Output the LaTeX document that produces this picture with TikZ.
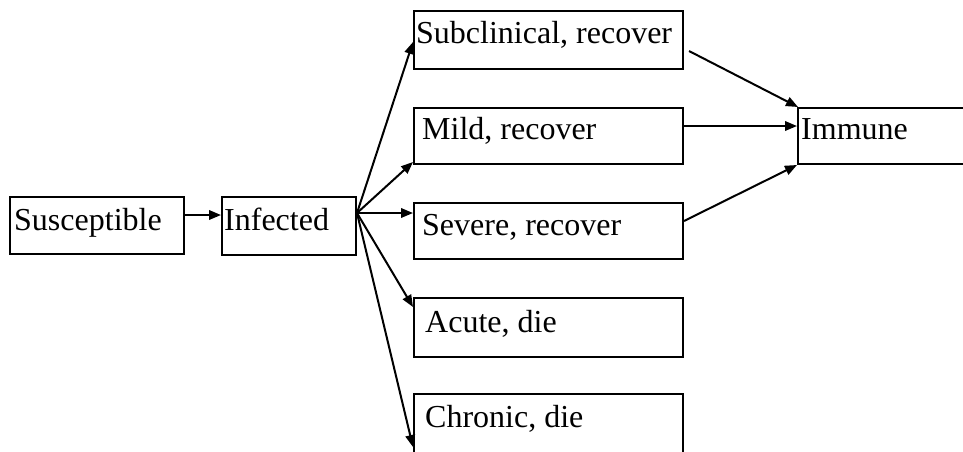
\documentclass[tikz,border=0pt]{standalone}
\usepackage{fontspec}
\setmainfont{Liberation Serif}
\usetikzlibrary{arrows.meta,calc}
\tikzset{
  box/.style={draw, line width=2pt, rectangle, inner sep=0pt, anchor=north west},
  lbl/.style={anchor=base west, inner sep=0pt, font=\fontsize{32}{38}\selectfont},
  arr/.style={line width=2pt, -{Triangle[length=12pt,width=9.5pt]}}
}
\begin{document}
\begin{tikzpicture}[x=1pt,y=-1pt]
\useasboundingbox (0,0) rectangle (963,451);
\clip (0,0) rectangle (963,451);
% boxes
\node[box, minimum width=174pt, minimum height=57pt] (sus) at (9,196) {};
\node[box, minimum width=134pt, minimum height=58pt] (inf) at (221,196) {};
\node[box, minimum width=269pt, minimum height=58pt] (sub) at (413,10) {};
\node[box, minimum width=269pt, minimum height=56pt] (mild) at (413,107) {};
\node[box, minimum width=269pt, minimum height=56pt] (sev) at (413,202) {};
\node[box, minimum width=269pt, minimum height=59pt] (acute) at (413,297) {};
\node[box, minimum width=269pt, minimum height=90pt] (chron) at (413,393) {};
\node[box, minimum width=200pt, minimum height=56pt] (imm) at (797,107) {};
% labels
\node[lbl] (tsus) at (14,230) {Susceptible};
\node[lbl] (tinf) at (224,230) {Infected};
\node[lbl] (tsub) at (416,43) {Subclinical, recover};
\node[lbl] (tmild) at (422,139) {Mild, recover};
\node[lbl] (tsev) at (422,235) {Severe, recover};
\node[lbl] (tacute) at (425,332) {Acute, die};
\node[lbl] (tchron) at (425,427) {Chronic, die};
\node[lbl] (timm) at (801,139) {Immune};
% connector points
\coordinate (s1) at ($(sus.north east)+(0,19)$);
\coordinate (i1) at ($(inf.north west)+(0,19)$);
\coordinate (o) at ($(inf.north east)+(0,17)$);
\coordinate (subin) at ($(sub.north west)+(0,32)$);
\coordinate (mildin) at ($(mild.south west)+(0,-3)$);
\coordinate (sevin) at ($(sev.north west)+(0,11)$);
\coordinate (acutein) at ($(acute.north west)+(0,10)$);
\coordinate (chronin) at ($(chron.north west)+(0,54)$);
\coordinate (subout) at ($(sub.north east)+(5,41)$);
\coordinate (mildout) at ($(mild.north east)+(0,19)$);
\coordinate (sevout) at ($(sev.north east)+(0,19)$);
\coordinate (immtop) at ($(imm.north west)+(1,0)$);
\coordinate (immmid) at ($(imm.north west)+(0,19)$);
\coordinate (immbot) at (imm.south west);
% arrows
\draw[arr] (s1) -- (i1);
\draw[arr] (o) -- (subin);
\draw[arr] (o) -- (mildin);
\draw[arr] (o) -- (sevin);
\draw[arr] (o) -- (acutein);
\draw[arr] (o) -- (chronin);
\draw[arr] (subout) -- (immtop);
\draw[arr] (mildout) -- (immmid);
\draw[arr] (sevout) -- (immbot);
\end{tikzpicture}
\end{document}
